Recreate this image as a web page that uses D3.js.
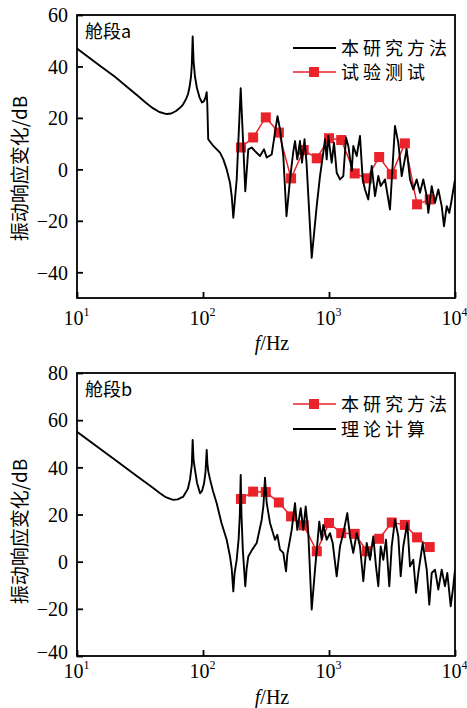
<!DOCTYPE html>
<html><head><meta charset="utf-8">
<script src="https://cdn.jsdelivr.net/npm/d3@7"></script>
<style>body{margin:0;background:#fff} svg{display:block}</style>
</head><body><svg id="c" width="467" height="708"></svg>
<script>
// ---- Panel a data ----
const freqA = [10,15.2,20,25,30,35,40,45,51.5,56,61.1,66,69.4,73.3,76,78.1,80.3,81.5,82.8,84.2,86.4,89.6,93.8,98.2,101.8,104.7,107,108.2,110,120.7,136.4,145,154.2,163.7,169,174,185.1,199.2,216.6,228.8,243.5,258.6,283.5,304.9,320.3,351,390.2,408.4,433.9,459.9,490.4,520.9,537.3,560.3,588.6,610.7,639.3,663,729,798.8,848.4,901.2,929.7,958.7,987.2,1050,1096,1151,1223,1299,1364,1423,1514,1559,1659,1762,1851,1931,2051,2183,2318,2462,2572,2782,3048,3340,3548,3776,4137,4394,4667,4966,5276,5603,5964,6141,6535,6940,7371,7843,8180,8594,9013,9415,10000];
const valA = [47,40.3,36,32,28.8,26,23.8,22.3,21.5,21.7,22.7,24,25.2,27.3,29.2,31.8,36,40.5,51.7,42,36,31.5,28,26,26.5,28,30,25,11.7,9.1,6.5,3.9,0,-5.2,-10.4,-18.8,-3.9,31.5,-8.5,7.8,8.5,7.1,5.2,7.8,4.6,5.8,20.7,15.6,5.2,-18.2,-3.9,7,11,3.9,11,2.6,11.7,2.6,-34.4,-14.3,-2.6,6.5,11.7,3.9,13,2.6,10.4,-1.3,-3.9,-2.6,12.4,9.1,-0.6,9.1,5.2,13,-3.9,-7.8,-11.7,1.3,-10.4,-2.6,-6.5,-3.9,-15.6,16.9,10.4,-2.6,7.8,-3.9,-7.8,-3.9,-9.1,-3.9,-10.4,-16.9,-6.5,-13,-7.8,-14.3,-22.1,-14.3,-16.9,-11.7,-3.9];
const bandFreq = [200,250,315,400,500,630,800,1000,1250,1600,2000,2500,3150,4000,5000,6300];
const testA = [8.5,12.4,20.2,14.3,-3.5,7.5,4.3,12.1,11.4,-1.6,-3.5,4.8,-1.9,10.1,-13.6,-11.7];
// ---- Panel b data ----
const freqB = [10,20,30,40,45.6,50,55,58.1,63,69.8,73.3,76,78.9,81.5,82.8,84.2,86.4,89.6,94.7,98.2,101.8,104.7,107,108.2,110,113.6,120,128.4,140,154.2,163.8,169,174,178,185.1,192,196,199.2,202,207,216.6,222,228.8,245,266.9,292.4,302,310.5,320,340.2,372.7,388.8,408.4,433.9,455.9,466.7,505.8,537.3,560.3,596.3,625.2,653.3,684.9,729,774.4,837.5,875.2,901.2,958.7,1018,1070,1151,1223,1299,1397,1468,1559,1659,1762,1872,1992,2115,2247,2360,2462,2572,2698,2835,3010,3145,3340,3548,3707,3887,4182,4394,4667,4904,5114,5542,5964,6252,6535,6940,7371,7843,8330,8690,9245,9694,10000];
const valB = [55.1,43.2,36.2,31.3,29,27.5,26.6,26.2,26.4,27.6,29.5,31,35,41,51.6,43,38.9,33.5,29,30,33,38,47.4,42,38.5,35,30,24.8,16.5,9.3,2.2,-3,-12.6,-5,0.8,10,20,36.8,20,5,-10.4,-3,2.2,5,7.9,17.8,24,35.6,25,16.4,9.3,11.4,5.1,3.7,-4.1,3,13.5,24.8,13.5,22.7,13.5,23.4,12.1,-20.3,-3.4,17,9.3,15.6,9.3,12.1,7.9,-6.2,6.5,12.1,20.6,10.7,3.7,12.1,6.5,-8.3,7.9,0.8,10.7,-2,-10.4,6.5,0.8,9.3,-10.4,6.5,17.8,10.7,-6.2,6.5,16.4,-2,0.8,-13.2,-4.8,7.9,-3.4,-18.2,-4.8,-3.4,-11.8,-3.4,-10.4,-4.8,-18.9,-10.4,-3.4];
const methodB = [26.6,29.7,29.5,25.1,19.2,15.4,4.4,16.4,12.1,11.8,4.4,9.7,16.6,15.6,10.3,6.2];
// ---- ticks / labels ----
const xTicks = [10,100,1000,10000];
const yTicksA = [-40,-20,0,20,40,60];
const yTicksB = [-40,-20,0,20,40,60,80];
const yLabel = "振动响应变化/dB";
const xLabel = ["f","/Hz"];

const RED = "#ea2229";
const svg = d3.select("#c");
const FONT = "'Liberation Serif','Times New Roman',serif";
const CJK = "'Noto Sans CJK SC','Liberation Serif',serif";
const L = 77, R = 455;

function panel(cfg){
  const g = svg.append("g");
  const x = d3.scaleLog().domain([10,10000]).range([L,R]);
  const y = d3.scaleLinear().domain(cfg.yDomain).range([cfg.bottom,cfg.top]);
  const cid = "clip"+cfg.id;
  svg.append("clipPath").attr("id",cid).append("rect")
    .attr("x",L).attr("y",cfg.top).attr("width",R-L).attr("height",cfg.bottom-cfg.top);
  // x axis
  const xa = g.append("g").attr("transform",`translate(0,${cfg.bottom})`)
    .call(d3.axisBottom(x).tickValues(xTicks).tickSize(-6).tickPadding(10).tickFormat(()=>""));
  xa.select(".domain").remove();
  xa.selectAll("line").attr("stroke","#000").attr("stroke-width",1.8);
  xa.selectAll(".tick").each(function(d){
    const t = d3.select(this).select("text").attr("font-family",FONT).attr("font-size",20)
      .attr("fill","#000").attr("y",cfg.xlabY-cfg.bottom).attr("dy",0).attr("x",-1);
    const e = Math.round(Math.log10(d));
    t.append("tspan").text("10");
    t.append("tspan").text(e).attr("font-size",12).attr("dy",-9);
  });
  // y axis
  const ya = g.append("g").attr("transform",`translate(${L},0)`)
    .call(d3.axisLeft(y).tickValues(cfg.yTicks).tickSize(-6).tickPadding(9)
      .tickFormat(d=> d<0 ? "−"+Math.abs(d) : d));
  ya.select(".domain").remove();
  ya.selectAll("line").attr("stroke","#000").attr("stroke-width",1.8);
  ya.selectAll("text").attr("font-family",FONT).attr("font-size",20).attr("fill","#000")
    .attr("dy",d=> (cfg.id==="b" && d===cfg.yDomain[0]) ? "0.12em" : "0.34em");
  // frame
  g.append("rect").attr("x",L).attr("y",cfg.top).attr("width",R-L).attr("height",cfg.bottom-cfg.top)
    .attr("fill","none").attr("stroke","#000").attr("stroke-width",1.8);

  const line = d3.line().x(d=>x(d[0])).y(d=>y(d[1]));
  const blackData = cfg.freq.map((f,i)=>[f,cfg.val[i]]);
  const redData = bandFreq.map((f,i)=>[f,cfg.red[i]]);
  const pg = g.append("g").attr("clip-path",`url(#${cid})`);
  pg.append("path").datum(redData).attr("d",line).attr("fill","none").attr("stroke",RED).attr("stroke-width",1.5);
  pg.selectAll("rect.m").data(redData).enter().append("rect").attr("class","m")
    .attr("x",d=>x(d[0])-5).attr("y",d=>y(d[1])-5).attr("width",10).attr("height",10).attr("fill",RED);
  pg.append("path").datum(blackData).attr("d",line).attr("fill","none").attr("stroke","#000")
    .attr("stroke-width",1.9).attr("stroke-linejoin","round");

  // panel label
  g.append("text").attr("x",85).attr("y",cfg.top+23).attr("font-family",CJK).attr("font-size",18)
    .attr("fill","#000").text(cfg.title);
  // legend
  cfg.legend.forEach((it,i)=>{
    const ly = cfg.legY[i];
    g.append("line").attr("x1",293).attr("x2",336).attr("y1",ly).attr("y2",ly)
      .attr("stroke",it.c).attr("stroke-width",it.c==="#000"?1.9:1.5);
    if(it.m) g.append("rect").attr("x",309).attr("y",ly-5).attr("width",10).attr("height",10).attr("fill",RED);
    g.append("text").attr("x",341).attr("y",ly+7).attr("font-family",CJK).attr("font-size",18)
      .attr("letter-spacing",4).attr("fill","#000").text(it.t);
  });
  // y label
  const cy = (cfg.top+cfg.bottom)/2 + cfg.yLabOff;
  g.append("text").attr("transform",`translate(27,${cy}) rotate(-90)`).attr("text-anchor","middle")
    .attr("font-family",CJK).attr("font-size",19).attr("fill","#000").text(yLabel);
  // x label
  const xt = g.append("text").attr("x",272).attr("y",cfg.fY).attr("text-anchor","middle")
    .attr("font-family",FONT).attr("font-size",20).attr("fill","#000");
  xt.append("tspan").attr("font-style","italic").text(xLabel[0]);
  xt.append("tspan").text(xLabel[1]);
}

panel({id:"a",top:15,bottom:298,yDomain:[-50,60],yTicks:yTicksA,freq:freqA,val:valA,red:testA,
  title:"舱段a",xlabY:325,fY:350,yLabOff:12,legY:[48,72],
  legend:[{t:"本研究方法",c:"#000"},{t:"试验测试",c:RED,m:true}]});
panel({id:"b",top:373,bottom:656,yDomain:[-40,80],yTicks:yTicksB,freq:freqB,val:valB,red:methodB,
  title:"舱段b",xlabY:678,fY:704,yLabOff:17,legY:[404,429],
  legend:[{t:"本研究方法",c:RED,m:true},{t:"理论计算",c:"#000"}]});
</script></body></html>
